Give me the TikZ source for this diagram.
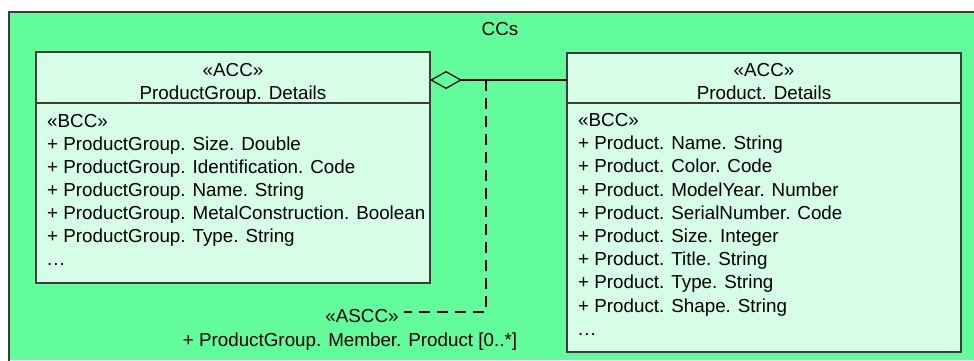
\documentclass[tikz,border=0pt]{standalone}
\usepackage{fontspec}
\setmainfont{Liberation Sans}
\usetikzlibrary{arrows.meta}
\definecolor{bggreen}{HTML}{62FC9A}
\definecolor{boxfill}{HTML}{D6FDE6}
\definecolor{framecol}{HTML}{3C3C3C}
\begin{document}
\begin{tikzpicture}[x=1pt,y=-1pt,
  txt/.style={font=\fontsize{18.8}{23}\selectfont, inner sep=0, anchor=base west, text=black},
  ctxt/.style={txt, anchor=base},
  umlbox/.style={draw=framecol, line width=1.5pt, fill=boxfill, inner sep=0, outer sep=0, anchor=north west},
  assoc/.style={draw=black, line width=1.2pt},
  dep/.style={draw=black, line width=1.3pt, dash pattern=on 11pt off 7pt}]
\useasboundingbox (0,0) rectangle (974,360);
% package frame
\fill[bggreen] (8.5,12) rectangle (974,360);
\draw[framecol, line width=2pt] (8.5,361) -- (8.5,12) -- (975,12);
\node[ctxt] (cc) at (500,35) {CCs};
% boxes
\node[umlbox, minimum width=394pt, minimum height=231pt] (pg) at (36,52) {};
\node[umlbox, minimum width=394pt, minimum height=299pt] (pr) at (567,53) {};
\coordinate (h) at (0,103);
\draw[framecol, line width=1.3pt] (pg.west |- h) -- (pg.east |- h);
\draw[framecol, line width=1.3pt] (pr.west |- h) -- (pr.east |- h);
% headers
\node[ctxt] (pgs) at (233,76.5) {«ACC»};
\node[ctxt] (pgn) at (233,99) {ProductGroup. Details};
\node[ctxt] (prs) at (764,76.5) {«ACC»};
\node[ctxt] (prn) at (764,99) {Product. Details};
% attributes left
\foreach \t [count=\i from 0] in {«BCC»,
  + ProductGroup. Size. Double,
  + ProductGroup. Identification. Code,
  + ProductGroup. Name. String,
  + ProductGroup. MetalConstruction. Boolean,
  + ProductGroup. Type. String}
  \node[txt] (pga\i) at (47,127+23.1*\i) {\t};
\node[txt] (pgdots) at (47,127+23.1*6) {.\kern1pt.\kern1pt.};
% attributes right
\foreach \t [count=\i from 0] in {«BCC»,
  + Product. Name. String,
  + Product. Color. Code,
  + Product. ModelYear. Number,
  + Product. SerialNumber. Code,
  + Product. Size. Integer,
  + Product. Title. String,
  + Product. Type. String,
  + Product. Shape. String}
  \node[txt] (pra\i) at (578,126.5+23.2*\i) {\t};
\node[txt] (prdots) at (578,126.5+23.2*9) {.\kern1pt.\kern1pt.};
% aggregation
\coordinate (ay) at (0,80);
\draw[assoc, {Diamond[open, length=32pt, width=18pt, line width=1.2pt]}-] (pg.east |- ay) -- (pr.west |- ay);
% ASCC dependency
\coordinate (j) at (486,80);
\coordinate (k) at (486,312);
\node[ctxt] (ascc) at (362,322) {«ASCC»};
\node[ctxt] (role) at (350,346) {+ ProductGroup. Member. Product [0..*]};
\coordinate (ae) at (404,312);
\draw[dep] (j) -- (k) -- (ae);
\end{tikzpicture}
\end{document}
